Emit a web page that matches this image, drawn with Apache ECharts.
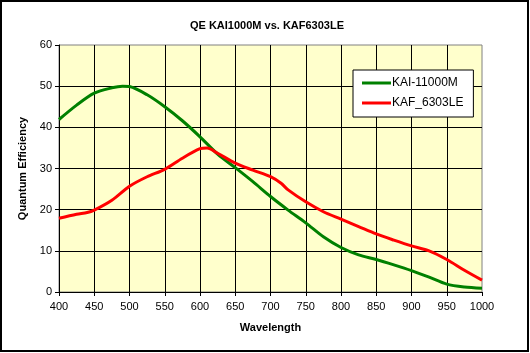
<!DOCTYPE html>
<html>
<head>
<meta charset="utf-8">
<script src="https://cdn.jsdelivr.net/npm/echarts@6/dist/echarts.min.js"></script>
<style>
  html, body { margin: 0; padding: 0; background: #fff; }
  #main { width: 530px; height: 353px; }
</style>
</head>
<body>
<div id="main"></div>
<script>
// wavelength (nm) sampled along the curves
var wavelength = [400, 425, 450, 475, 490, 500, 525, 550, 575, 600, 625, 650, 675, 700, 725, 750, 775, 800, 825, 850, 875, 900, 925, 950, 975, 1000];
// KAI-11000M quantum efficiency (%)
var kai11000m = [41.9, 45.4, 48.3, 49.6, 50, 49.9, 47.9, 45.0, 41.6, 37.7, 33.5, 30.2, 26.8, 23.2, 19.9, 16.8, 13.4, 10.8, 9.0, 7.9, 6.6, 5.2, 3.6, 1.9, 1.2, 0.9];
// red curve sampled at its own wavelengths
var wavelengthRed = [400, 425, 440, 450, 475, 500, 525, 550, 575, 600, 610, 625, 650, 675, 700, 715, 725, 750, 775, 800, 825, 850, 875, 900, 925, 950, 975, 1000];
var kaf6303le = [17.9, 18.9, 19.3, 19.9, 22.3, 25.7, 28.0, 29.8, 32.5, 34.8, 35.0, 33.7, 31.3, 29.6, 28.0, 26.4, 24.8, 21.9, 19.5, 17.7, 15.9, 14.1, 12.6, 11.2, 10.0, 7.9, 5.3, 2.9];

var seriesNames = ['KAI-11000M', 'KAF_6303LE'];

function pairs(xs, ys) {
	var out = [];
	for (var i = 0; i < xs.length; i++) out.push([xs[i], ys[i]]);
	return out;
}

var myChart = echarts.init(document.getElementById('main'));
var font = 'Liberation Sans, Arial, sans-serif';

var option = {
	animation: false,
	backgroundColor: '#fff',
	textStyle: { fontFamily: font },
	graphic: [{
		type: 'rect',
		shape: { x: 1, y: 1, width: 527, height: 350 },
		style: { fill: 'none', stroke: '#000', lineWidth: 2 },
		silent: true
	}],
	title: {
		text: 'QE KAI1000M vs. KAF6303LE',
		left: 262,
		textAlign: 'center',
		top: 15,
		textStyle: { fontSize: 11, fontWeight: 'bold', color: '#000', fontFamily: font }
	},
	legend: {
		orient: 'vertical',
		left: 353,
		top: 70,
		padding: [7, 10, 8, 9],
		itemGap: 8,
		itemWidth: 29,
		itemHeight: 3,
		icon: 'rect',
		backgroundColor: '#fff',
		borderColor: '#000',
		borderWidth: 1,
		borderRadius: 0,
		data: seriesNames,
		textStyle: { fontSize: 12, color: '#000', fontFamily: font, padding: [0, 0, 0, -4] }
	},
	grid: {
		left: 59,
		top: 45,
		width: 423,
		height: 247,
		show: true,
		backgroundColor: '#FFFFCC',
		borderColor: '#808080',
		borderWidth: 1
	},
	xAxis: {
		type: 'value',
		min: 400,
		max: 1000,
		interval: 50,
		name: 'Wavelength',
		nameLocation: 'middle',
		nameGap: 30,
		nameTextStyle: { fontSize: 11, fontWeight: 'bold', color: '#000' },
		axisLine: { lineStyle: { color: '#000', width: 1 } },
		axisTick: { show: true, length: 4, lineStyle: { color: '#000' } },
		axisLabel: { fontSize: 11, color: '#000', margin: 9, formatter: function(v) { return String(v); } },
		splitLine: { show: true, showMinLine: false, showMaxLine: false, lineStyle: { color: '#000', width: 1 } }
	},
	yAxis: {
		type: 'value',
		min: 0,
		max: 60,
		interval: 10,
		name: 'Quantum Efficiency',
		nameLocation: 'middle',
		nameGap: 27,
		nameTextStyle: { fontSize: 11, fontWeight: 'bold', color: '#000' },
		axisLine: { show: true, lineStyle: { color: '#000', width: 1 } },
		axisTick: { show: true, length: 4, lineStyle: { color: '#000' } },
		axisLabel: { fontSize: 11, color: '#000', margin: 7 },
		splitLine: { show: true, showMinLine: false, showMaxLine: false, lineStyle: { color: '#000', width: 1 } }
	},
	series: [{
		name: seriesNames[0],
		type: 'line',
		data: pairs(wavelength, kai11000m),
		smooth: 0.3,
		showSymbol: false,
		color: '#008000',
		lineStyle: { width: 3, color: '#008000' }
	}, {
		name: seriesNames[1],
		type: 'line',
		data: pairs(wavelengthRed, kaf6303le),
		smooth: 0.3,
		showSymbol: false,
		color: '#FF0000',
		lineStyle: { width: 3, color: '#FF0000' }
	}]
};
myChart.setOption(option);
</script>
</body>
</html>
